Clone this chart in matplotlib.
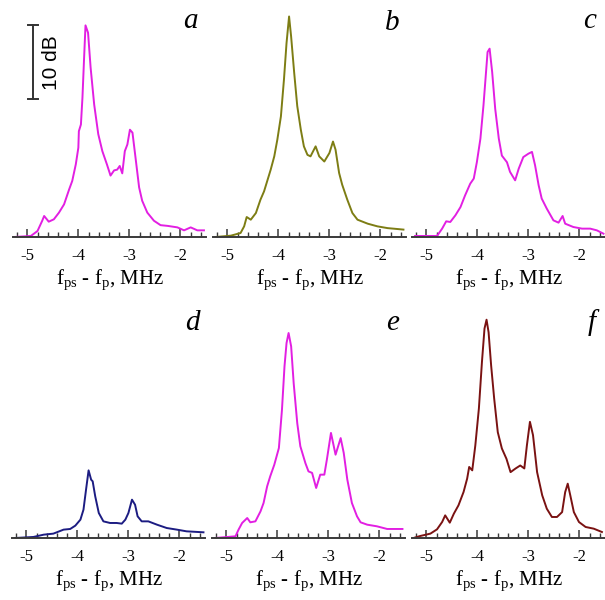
import matplotlib
matplotlib.use("Agg")
import matplotlib.pyplot as plt
from matplotlib.ticker import MultipleLocator

plt.rcParams["font.family"] = ["Liberation Serif", "DejaVu Serif"]
plt.rcParams["mathtext.fontset"] = "custom"
plt.rcParams["mathtext.rm"] = "Liberation Serif"

freq_a = [-5.26, -4.93, -4.80, -4.71, -4.67, -4.58, -4.48, -4.38, -4.28, -4.18,
          -4.12, -4.05, -4.00, -3.99, -3.95, -3.92, -3.89, -3.86, -3.81, -3.76,
          -3.69, -3.61, -3.53, -3.44, -3.37, -3.30, -3.24, -3.19, -3.14, -3.09,
          -3.04, -2.99, -2.94, -2.88, -2.81, -2.75, -2.65, -2.52, -2.39, -2.25,
          -2.06, -1.93, -1.80, -1.67, -1.54]
level_a = [0.0, 0.14, 0.81, 2.16, 2.84, 2.07, 2.39, 3.29, 4.41, 6.44,
           7.57, 9.82, 12.07, 14.3, 15.2, 18.8, 23.8, 28.6, 27.6, 22.9,
           17.9, 13.9, 11.6, 9.8, 8.3, 9.0, 9.1, 9.6, 8.6, 11.6,
           12.5, 14.5, 14.1, 10.7, 6.7, 4.9, 3.3, 2.2, 1.6, 1.5,
           1.3, 0.9, 1.3, 0.9, 0.9]

freq_b = [-5.23, -4.93, -4.74, -4.67, -4.62, -4.54, -4.44, -4.35, -4.28, -4.22,
          -4.15, -4.08, -4.02, -3.95, -3.89, -3.84, -3.79, -3.75, -3.69, -3.63,
          -3.56, -3.50, -3.43, -3.37, -3.27, -3.20, -3.10, -3.00, -2.93, -2.88,
          -2.81, -2.75, -2.65, -2.55, -2.45, -2.25, -2.06, -1.86, -1.67, -1.55]
level_b = [0.0, 0.18, 0.54, 1.44, 2.7, 2.34, 3.24, 5.05, 6.17, 7.52,
           9.1, 10.9, 13.15, 16.3, 21.3, 26.2, 29.8, 27.1, 22.2, 17.7,
           14.5, 12.25, 11.1, 10.9, 12.25, 10.9, 10.2, 11.35, 12.9, 11.8,
           8.65, 7.07, 5.05, 3.24, 2.34, 1.8, 1.44, 1.2, 1.08, 1.0]

freq_c = [-5.22, -4.79, -4.69, -4.61, -4.53, -4.43, -4.33, -4.24, -4.14, -4.07,
          -4.01, -3.94, -3.88, -3.83, -3.80, -3.76, -3.71, -3.65, -3.58, -3.52,
          -3.42, -3.36, -3.26, -3.19, -3.10, -3.00, -2.93, -2.87, -2.80, -2.74,
          -2.64, -2.51, -2.41, -2.33, -2.28, -2.12, -1.95, -1.79, -1.66, -1.53]
level_c = [0.14, 0.14, 1.13, 2.12, 2.03, 2.93, 4.05, 5.63, 7.2, 7.9,
           10.1, 13.3, 17.8, 22.3, 25.0, 25.45, 22.3, 17.3, 13.3, 11.0,
           10.1, 8.8, 7.66, 9.23, 10.8, 11.26, 11.5, 9.7, 7.0, 5.2,
           3.83, 2.25, 1.94, 2.84, 1.8, 1.35, 1.13, 1.13, 0.9, 0.45]

freq_d = [-5.22, -4.86, -4.66, -4.47, -4.27, -4.14, -4.04, -3.94, -3.88, -3.83,
          -3.78, -3.73, -3.70, -3.65, -3.58, -3.49, -3.36, -3.23, -3.13, -3.06,
          -3.00, -2.93, -2.87, -2.82, -2.74, -2.61, -2.44, -2.25, -2.05, -1.86,
          -1.53]
level_d = [0.0, 0.14, 0.45, 0.59, 1.13, 1.22, 1.67, 2.48, 3.83, 6.53,
           9.14, 7.88, 7.66, 5.63, 3.38, 2.25, 2.03, 2.03, 1.94, 2.48,
           3.38, 5.18, 4.5, 2.93, 2.25, 2.25, 1.8, 1.35, 1.13, 0.9,
           0.77]

freq_e = [-5.22, -4.82, -4.76, -4.69, -4.59, -4.53, -4.43, -4.33, -4.27, -4.20,
          -4.14, -4.06, -3.97, -3.91, -3.86, -3.82, -3.78, -3.73, -3.68, -3.61,
          -3.55, -3.45, -3.39, -3.32, -3.24, -3.16, -3.08, -3.03, -2.95, -2.86,
          -2.76, -2.70, -2.63, -2.54, -2.44, -2.37, -2.24, -2.05, -1.85, -1.55]
level_e = [0.0, 0.23, 1.13, 2.03, 2.7, 2.12, 2.25, 3.6, 4.73, 6.98,
           8.33, 9.9, 12.16, 17.3, 23.2, 26.35, 27.7, 25.9, 20.9, 15.5,
           12.4, 10.1, 9.0, 8.8, 6.76, 8.56, 8.56, 10.6, 14.2, 11.26,
           13.5, 11.5, 7.9, 4.73, 2.93, 2.12, 1.8, 1.58, 1.22, 1.22]

freq_f = [-5.25, -5.12, -4.92, -4.79, -4.69, -4.63, -4.54, -4.46, -4.37, -4.27,
          -4.20, -4.16, -4.10, -4.04, -3.97, -3.91, -3.86, -3.82, -3.78, -3.73,
          -3.67, -3.60, -3.52, -3.43, -3.35, -3.25, -3.16, -3.08, -3.03, -2.97,
          -2.91, -2.83, -2.73, -2.64, -2.54, -2.44, -2.34, -2.28, -2.23, -2.18,
          -2.11, -2.01, -1.88, -1.72, -1.56]
level_f = [0.0, 0.27, 0.59, 1.17, 2.16, 3.06, 2.07, 3.29, 4.41, 6.22,
           8.02, 9.6, 9.14, 12.5, 17.5, 23.8, 28.3, 29.5, 27.8, 23.3,
           18.8, 14.3, 12.1, 10.7, 8.9, 9.4, 9.8, 9.4, 12.5, 15.7,
           13.9, 8.9, 5.77, 3.96, 2.84, 2.84, 3.5, 6.2, 7.34, 5.77,
           3.5, 2.16, 1.49, 1.26, 0.81]

panels = ["a", "b", "c", "d", "e", "f"]
freqs = [freq_a, freq_b, freq_c, freq_d, freq_e, freq_f]
levels = [level_a, level_b, level_c, level_d, level_e, level_f]
colors = ["#e21fe2", "#7d7d14", "#e21fe2", "#1c1c82", "#e21fe2", "#7a1212"]

W, H = 605, 600
fig = plt.figure(figsize=(W / 100, H / 100), dpi=100)

lefts = [13, 213, 412, 12, 212, 412]
axis_y = [237, 237, 237, 538, 538, 538]
ax_w, ax_h = 193, 230
px_per_db = 7.4
axis_col = "#3a3a3a"

axes = []
for i, p in enumerate(panels):
    ax = fig.add_axes([lefts[i] / W, (H - axis_y[i]) / H, ax_w / W, ax_h / H])
    ax.plot(freqs[i], levels[i], color=colors[i], lw=1.4)
    ax.set_xlim(-5.28, -1.5)
    ax.set_ylim(0, ax_h / px_per_db)
    for s in ["top", "left", "right"]:
        ax.spines[s].set_visible(False)
    ax.spines["bottom"].set_linewidth(1.4)
    ax.spines["bottom"].set_color(axis_col)
    ax.set_yticks([])
    ax.xaxis.set_major_locator(MultipleLocator(1))
    ax.xaxis.set_minor_locator(MultipleLocator(0.2))
    ax.tick_params(axis="x", which="major", direction="in", length=6,
                   width=1.1, color=axis_col, labelsize=12, pad=8)
    ax.tick_params(axis="x", which="minor", direction="in", length=3.5,
                   width=1.0, color=axis_col)
    ax.set_xticks([-5, -4, -3, -2])
    ax.set_xticklabels(["-5", "-4", "-3", "-2"])
    ax.set_xlabel(r"f$_{\mathrm{ps}}$ - f$_{\mathrm{p}}$, MHz", fontsize=15,
                  labelpad=3)
    ax.patch.set_alpha(0)
    axes.append(ax)

# panel letters
letter_x = [190, 392, 590, 192, 393, 592]
letter_base = [28, 30, 28, 330, 330, 330]
for i, p in enumerate(panels):
    fig.text(letter_x[i] / W, 1 - letter_base[i] / H, p, fontsize=21,
             style="italic", ha="center", va="baseline")

# 10 dB scale bar in panel a
ax = axes[0]
bar_x = -4.89
ax.plot([bar_x, bar_x], [18.6, 28.6], color="#333333", lw=1.4, clip_on=False)
ax.plot([bar_x - 0.09, bar_x + 0.09], [18.6, 18.6], color="#333333", lw=1.4,
        clip_on=False)
ax.plot([bar_x - 0.09, bar_x + 0.09], [28.6, 28.6], color="#333333", lw=1.4,
        clip_on=False)
ax.text(-4.52, 23.6, "10 dB", rotation=90, ha="center", va="center",
        fontsize=15, family=["Liberation Sans", "DejaVu Sans"])

fig.savefig("out.png", dpi=100)
